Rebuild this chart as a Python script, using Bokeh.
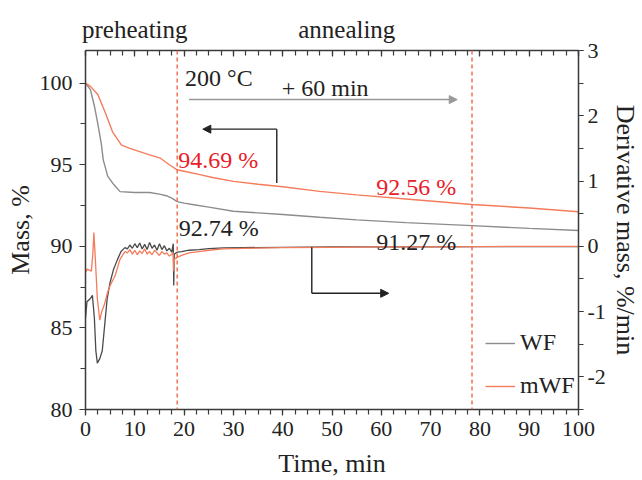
from bokeh.plotting import figure
from bokeh.models import (Range1d, LinearAxis, SingleIntervalTicker, FixedTicker, Span, Label,
                          Arrow, NormalHead, Legend, LegendItem, CustomJSTickFormatter)
from bokeh.embed import file_html
from bokeh.resources import INLINE

# ---------------- data ----------------
# mass curves (left axis, %)
t_mass_wf = [0, 1, 1.8, 2.5, 3.2, 3.6, 4.5, 5.7, 7, 10, 13, 15, 16.4, 17.5, 18.6, 20, 22, 25, 30, 35,
             40, 47.5, 55, 65, 78.4, 90, 100]
mass_wf = [100, 99.6, 98.6, 97.5, 96.3, 95.3, 94.3, 93.8, 93.35, 93.3, 93.3, 93.2, 93.1, 92.95, 92.74,
           92.65, 92.55, 92.4, 92.15, 92.05, 91.95, 91.78, 91.62, 91.45, 91.27, 91.1, 90.97]

t_mass_mwf = [0, 1, 2.5, 4, 5.5, 7.3, 9, 11, 13, 15.2, 17, 18.6, 20, 23.2, 26, 30, 35, 40, 47.5, 55,
              65, 78.4, 90, 100]
mass_mwf = [100, 99.8, 99.3, 98.2, 97.0, 96.2, 96.0, 95.8, 95.6, 95.4, 95.0, 94.69, 94.6, 94.39, 94.2,
            93.98, 93.8, 93.65, 93.37, 93.15, 92.9, 92.56, 92.35, 92.12]

# derivative curves (right axis, %/min)
t_der_wf = [0, 0.3, 1.0, 1.4, 1.8, 2.1, 2.4, 2.9, 3.4, 3.9, 4.4, 5.0, 5.7, 6.5, 7.2, 8.0,
            8.5, 9.0, 9.5, 10.0, 10.5, 11.0, 11.5, 12.0, 12.5, 13.0, 13.5, 14.0, 14.5, 15.0,
            15.5, 16.0, 16.5, 17.0, 17.5, 17.8, 17.9, 18.0, 18.6, 19.5, 21, 23, 25, 28, 32,
            40, 50, 60, 70, 80, 90, 100]
der_wf = [-1.1, -0.85, -0.8, -0.75, -1.1, -1.6, -1.79, -1.72, -1.6, -1.2, -0.8, -0.55, -0.35, -0.2,
          -0.08, -0.02,
          -0.04, 0.02, -0.03, 0.04, -0.02, 0.05, -0.04, 0.03, -0.05, 0.06, -0.03, 0.02, -0.06, 0.04,
          -0.05, 0.01, -0.07, -0.03, -0.09, 0.04, -0.6, -0.12, -0.09, -0.08, -0.06, -0.05, -0.035,
          -0.025, -0.02, -0.015, -0.01, -0.01, -0.01, -0.005, -0.005, -0.005]

t_der_mwf = [0, 0.3, 1.2, 1.5, 1.7, 2.0, 2.4, 2.9, 3.3, 3.8, 4.5, 5.0, 6.0, 7.0, 8.0,
             8.5, 9.0, 9.5, 10.0, 10.5, 11.0, 11.5, 12.0, 12.5, 13.0, 13.5, 14.0, 14.5, 15.0,
             15.5, 16.0, 16.5, 17.0, 17.5, 17.8, 17.9, 18.0, 18.6, 19.5, 21, 23, 25, 28, 32,
             40, 50, 60, 70, 80, 90, 100]
der_mwf = [-0.4, -0.35, -0.38, -0.1, 0.21, -0.2, -0.8, -1.13, -1.0, -0.9, -0.7, -0.6, -0.45, -0.2,
           -0.08,
           -0.1, -0.05, -0.12, -0.06, -0.13, -0.07, -0.11, -0.04, -0.12, -0.08, -0.13, -0.06, -0.1,
           -0.14, -0.08, -0.12, -0.1, -0.15, -0.12, -0.1, -0.38, -0.2, -0.17, -0.14, -0.1, -0.08,
           -0.06, -0.04, -0.03, -0.02, -0.015, -0.01, -0.01, -0.005, 0.0, 0.0]

stage_lines = [18.6, 78.4]
stage_names = ["preheating", "annealing"]
stage_name_pos = [10, 53]
mass_labels_mwf = ["94.69 %", "92.56 %"]
mass_labels_wf = ["92.74 %", "91.27 %"]

# ---------------- style ----------------
FONT = "Liberation Serif"
AX = "#3a3a3a"
GRAY = "#8c8c8c"
DGRAY = "#4a4a4a"
ORANGE = "#f47c5c"
RED = "#e8202a"
DASH = "#f07058"

p = figure(width=642, height=480, x_range=Range1d(0, 100), y_range=Range1d(80, 102),
           output_backend="svg", toolbar_location=None,
           x_axis_type=None, y_axis_type=None,
           min_border_left=85, min_border_right=62, min_border_top=50, min_border_bottom=69)
p.extra_y_ranges = {"d": Range1d(-2.5, 3)}
p.outline_line_color = None
p.grid.visible = False
p.background_fill_color = "white"
p.border_fill_color = "white"


def style_axis(ax, tick_out=True):
    ax.axis_line_color = AX
    ax.axis_line_width = 1.5
    ax.major_tick_line_color = AX
    ax.minor_tick_line_color = AX
    ax.major_tick_line_width = 1.2
    ax.minor_tick_line_width = 1.2
    if tick_out:
        ax.major_tick_out = 6
        ax.major_tick_in = 0
        ax.minor_tick_out = 5
        ax.minor_tick_in = 0
    else:
        ax.major_tick_out = 0
        ax.major_tick_in = 6
        ax.minor_tick_out = 0
        ax.minor_tick_in = 5
    ax.major_label_text_font = FONT
    ax.major_label_text_font_size = "22px"
    ax.major_label_text_color = "#222222"
    ax.axis_label_text_font = FONT
    ax.axis_label_text_font_size = "26px"
    ax.axis_label_text_font_style = "normal"
    ax.axis_label_text_color = "#222222"


xb = LinearAxis(ticker=SingleIntervalTicker(interval=10, num_minor_ticks=4), axis_label="Time, min")
style_axis(xb)
xb.major_label_standoff = 6
xb.axis_label_standoff = 10
p.add_layout(xb, "below")

xt = LinearAxis(ticker=SingleIntervalTicker(interval=10, num_minor_ticks=4),
                formatter=CustomJSTickFormatter(code="return ''"))
style_axis(xt, tick_out=False)
xt.major_label_standoff = 0
p.add_layout(xt, "above")

# stage names shown above the frame
xs = LinearAxis(ticker=FixedTicker(ticks=stage_name_pos, minor_ticks=[]),
                major_label_overrides={stage_name_pos[0]: stage_names[0],
                                       stage_name_pos[1]: stage_names[1]})
style_axis(xs)
xs.axis_line_color = None
xs.major_tick_line_color = None
xs.major_tick_out = 0
xs.minor_tick_out = 0
xs.major_label_standoff = 8
xs.major_label_text_font_size = "25px"
p.add_layout(xs, "above")

yl = LinearAxis(ticker=SingleIntervalTicker(interval=5, num_minor_ticks=2), axis_label="Mass, %")
style_axis(yl)
yl.major_label_standoff = 7
yl.axis_label_standoff = 2
p.add_layout(yl, "left")

yr = LinearAxis(y_range_name="d", ticker=SingleIntervalTicker(interval=1, num_minor_ticks=2),
                axis_label="Derivative mass, %/min")
style_axis(yr)
yr.major_tick_out = 5
yr.major_label_standoff = 4
yr.axis_label_standoff = 2
yr.major_label_overrides = {-1: "-1", -2: "-2"}
p.add_layout(yr, "right")

# stage boundaries
for xsl in stage_lines:
    p.add_layout(Span(location=xsl, dimension="height", line_color=DASH, line_width=1.5,
                      line_dash="4 3"))

# curves
r_wf = p.line(t_mass_wf, mass_wf, line_color=GRAY, line_width=1.4)
r_mwf = p.line(t_mass_mwf, mass_mwf, line_color=ORANGE, line_width=1.4)
p.line(t_der_wf, der_wf, y_range_name="d", line_color=DGRAY, line_width=1.3)
p.line(t_der_mwf, der_mwf, y_range_name="d", line_color=ORANGE, line_width=1.3)


def lab(x, y, text, color="#222222", size="24px"):
    p.add_layout(Label(x=x, y=y, text=text, text_font=FONT, text_font_size=size,
                       text_color=color, text_baseline="alphabetic", text_align="left"))


lab(20.2, 100.3, "200 °C")
lab(39.8, 99.68, "+ 60 min")
lab(18.8, 95.26, mass_labels_mwf[0], color=RED)
lab(59.0, 93.64, mass_labels_mwf[1], color=RED)
lab(18.9, 91.1, mass_labels_wf[0])
lab(59.0, 90.29, mass_labels_wf[1])

# arrows
p.add_layout(Arrow(end=NormalHead(size=8, fill_color="#999999", line_color="#999999"),
                   x_start=21.0, y_start=98.99, x_end=75.4, y_end=98.99,
                   line_color="#999999", line_width=1.5))
p.segment(x0=[38.8], y0=[97.18], x1=[38.8], y1=[93.88], line_color="#222222", line_width=1.4)
p.add_layout(Arrow(end=NormalHead(size=8, fill_color="#222222", line_color="#222222"),
                   x_start=38.8, y_start=97.18, x_end=23.8, y_end=97.18,
                   line_color="#222222", line_width=1.4))
p.segment(x0=[45.9], y0=[89.94], x1=[45.9], y1=[87.12], line_color="#222222", line_width=1.4)
p.add_layout(Arrow(end=NormalHead(size=8, fill_color="#222222", line_color="#222222"),
                   x_start=45.9, y_start=87.12, x_end=61.5, y_end=87.12,
                   line_color="#222222", line_width=1.4))

legend = Legend(items=[LegendItem(label="WF", renderers=[r_wf]),
                       LegendItem(label="mWF", renderers=[r_mwf])],
                location=(400, 10), padding=0, margin=0, spacing=16,
                glyph_width=30, glyph_height=20, label_standoff=5,
                label_text_font=FONT, label_text_font_size="24px", label_text_color="#222222",
                border_line_color=None, background_fill_alpha=0)
p.add_layout(legend)

open("out.html", "w").write(file_html(p, INLINE))
